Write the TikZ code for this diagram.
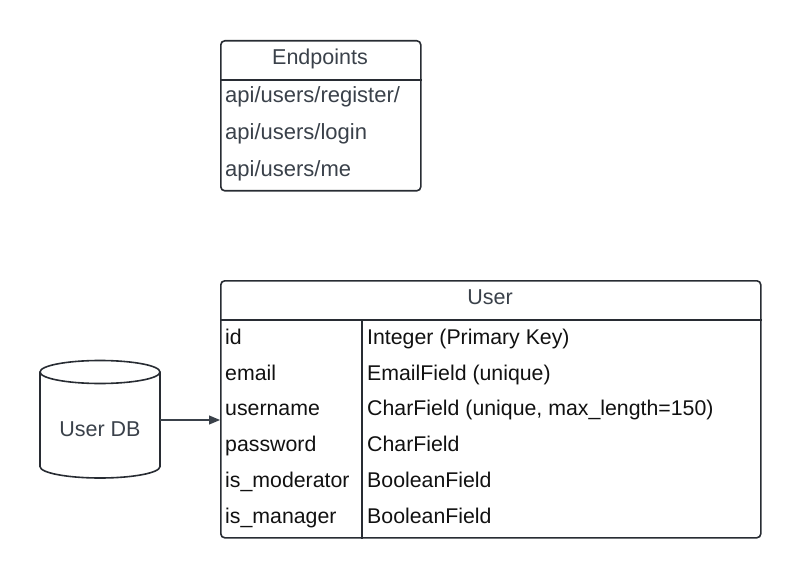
\documentclass[tikz,border=0pt]{standalone}
\usepackage{fontspec}
\setmainfont{Liberation Sans}
\usetikzlibrary{arrows.meta}
\definecolor{lc}{HTML}{282C33}
\definecolor{tg}{HTML}{3A414A}
\definecolor{tb}{HTML}{111111}
\tikzset{
  tbl/.style={draw=lc, line width=1.6pt, rounded corners=4pt, inner sep=0pt, anchor=north west},
  hdr/.style={text=tg, font=\fontsize{21.5}{25}\selectfont, inner sep=0pt, anchor=base},
  row/.style={text=tg, font=\fontsize{22}{26}\selectfont, inner sep=0pt, anchor=base west},
  fld/.style={text=tb, font=\fontsize{21.3}{25}\selectfont, inner sep=0pt, anchor=base west},
  sep/.style={draw=lc, line width=1.6pt},
  conn/.style={draw=tg, line width=1.1pt, -{Triangle[length=11pt,width=9pt]}}
}
\begin{document}
\begin{tikzpicture}[x=1pt,y=-1pt]
\useasboundingbox (0,0) rectangle (800,577);
% Endpoints
\node[tbl, minimum width=200pt, minimum height=150pt] (ep) at (220,40) {};
\draw[sep] (ep.west |- 0,80) coordinate (eph1) -- (ep.east |- 0,80) coordinate (eph2);
\node[hdr] (eptitle) at (320,65) {Endpoints};
\node[row] (ep1) at (225,103) {api/users/register/};
\node[row] (ep2) at (225,140) {api/users/login};
\node[row] (ep3) at (225,177) {api/users/me};
% User table
\node[tbl, minimum width=540pt, minimum height=257pt] (user) at (220,280) {};
\draw[sep] (user.west |- 0,320) coordinate (uh1) -- (user.east |- 0,320) coordinate (uh2);
\draw[sep] (362,320) coordinate (c1) -- (c1 |- user.south);
\node[hdr] (utitle) at (490,305) {User};
\node[fld] (f1) at (225,344) {id};
\node[fld] (f2) at (225,380) {email};
\node[fld] (f3) at (225,415) {username};
\node[fld] (f4) at (225,451) {password};
\node[fld] (f5) at (225,487) {is\_moderator};
\node[fld] (f6) at (225,523) {is\_manager};
\node[fld] (t1) at (367,344) {Integer (Primary Key)};
\node[fld] (t2) at (367,380) {EmailField (unique)};
\node[fld] (t3) at (367,415) {CharField (unique, max\_length=150)};
\node[fld] (t4) at (367,451) {CharField};
\node[fld] (t5) at (367,487) {BooleanField};
\node[fld] (t6) at (367,523) {BooleanField};
% Database cylinder
\node[minimum width=120pt, minimum height=118pt, inner sep=0pt] (db) at (100,420) {};
\draw[sep] (40,372) arc[start angle=180, end angle=360, x radius=60, y radius=-11.5]
  -- (160,372) arc[start angle=0, end angle=180, x radius=60, y radius=-11.5] -- cycle;
\draw[sep] (40,372) -- (40,466.5) arc[start angle=180, end angle=360, x radius=60, y radius=-11.5] -- (160,372);
\node[hdr] (dbl) at (100,436) {User DB};
\draw[conn] (db.east) -- (db.east -| user.west);
\end{tikzpicture}
\end{document}
